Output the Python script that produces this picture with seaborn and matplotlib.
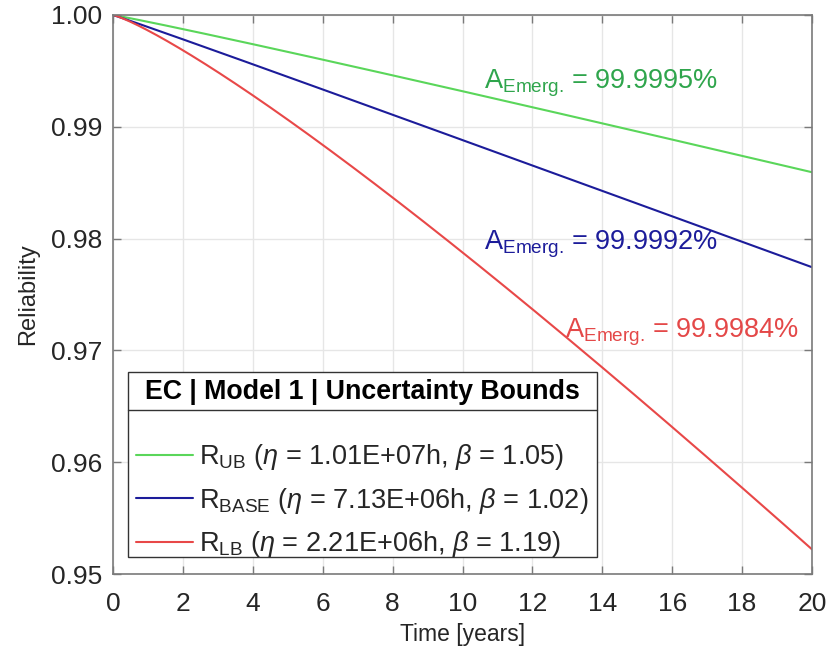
import numpy as np
import pandas as pd
import matplotlib
matplotlib.use("Agg")
import matplotlib.pyplot as plt
from matplotlib.lines import Line2D
from matplotlib.patches import Rectangle
import seaborn as sns

# Weibull parameters of the three reliability curves
series = ["UB", "BASE", "LB"]
eta_hours = [1.01e7, 7.13e6, 2.21e6]
beta = [1.05, 1.02, 1.19]
eta_labels = ["1.01E+07", "7.13E+06", "2.21E+06"]
beta_labels = ["1.05", "1.02", "1.19"]
availability = ["99.9995%", "99.9992%", "99.9984%"]
legend_title = "EC | Model 1 | Uncertainty Bounds"

line_colors = ["#5ad65a", "#1c1c9a", "#e84848"]
text_colors = ["#2fa54c", "#1c1c9a", "#e44848"]
text_pos = [(10.62, 0.99385), (10.62, 0.97950), (12.92, 0.97165)]

HOURS_PER_YEAR = 8760.0
years = np.linspace(0, 20, 401)

labels = [
    rf"R$_{{\mathrm{{{s}}}}}$ ($\eta$ = {e}h, $\beta$ = {b})"
    for s, e, b in zip(series, eta_labels, beta_labels)
]

frames = []
for lab, eta, b in zip(labels, eta_hours, beta):
    rel = np.exp(-((years * HOURS_PER_YEAR) / eta) ** b)
    frames.append(pd.DataFrame({"Time": years, "Reliability": rel, "Curve": lab}))
df = pd.concat(frames, ignore_index=True)

sns.set_theme(style="whitegrid")
plt.rcParams["font.family"] = ["Liberation Sans", "DejaVu Sans"]
plt.rcParams["mathtext.fontset"] = "custom"
plt.rcParams["mathtext.rm"] = "Liberation Sans"
plt.rcParams["mathtext.it"] = "Liberation Sans:italic"
plt.rcParams["mathtext.bf"] = "Liberation Sans:bold"

fig = plt.figure(figsize=(8.38, 6.53), dpi=100)
ax = fig.add_axes([113 / 838, 79 / 653, 699 / 838, 559 / 653])

sns.lineplot(data=df, x="Time", y="Reliability", hue="Curve",
             palette=dict(zip(labels, line_colors)), linewidth=1.5, ax=ax)

ax.set_xlim(0, 20)
ax.set_ylim(0.95, 1.0)
ax.set_xticks(np.arange(0, 21, 2))
ax.set_yticks([0.95, 0.96, 0.97, 0.98, 0.99, 1.00])
ax.set_yticklabels(["0.95", "0.96", "0.97", "0.98", "0.99", "1.00"])
ax.grid(True, color="#e6e6e6", linewidth=1.0)
ax.set_facecolor("white")
for sp in ax.spines.values():
    sp.set_visible(True)
    sp.set_color("#7a7a7a")
    sp.set_linewidth(1.2)
ax.tick_params(axis="both", which="major", direction="in", length=6, width=1,
               color="#7a7a7a", labelsize=19, labelcolor="#262626",
               top=True, right=True, bottom=True, left=True)
ax.tick_params(axis="x", pad=13)
ax.tick_params(axis="y", pad=8)
ax.set_xlabel("Time [years]", fontsize=16.5, color="#262626", labelpad=5)
ax.set_ylabel("Reliability", fontsize=17, color="#262626", labelpad=8)

for (tx, ty), av, col in zip(text_pos, availability, text_colors):
    ax.text(tx, ty, rf"A$_{{\mathrm{{Emerg.}}}}\,$= {av}", color=col,
            fontsize=19.5, va="center", ha="left")

# Legend box: frame, bold title row and separator drawn around the entries
box_x0, box_x1 = 0.0215, 0.6924
box_y0, box_y1 = 0.0305, 0.3620
sep_y = 0.2940
ax.add_patch(Rectangle((box_x0, box_y0), box_x1 - box_x0, box_y1 - box_y0,
                       transform=ax.transAxes, facecolor="white",
                       edgecolor="#333333", linewidth=1.0, zorder=4.5))
ax.add_line(Line2D([box_x0, box_x1], [sep_y, sep_y], transform=ax.transAxes,
                   color="#333333", linewidth=1.0, zorder=4.6))
ax.text((box_x0 + box_x1) / 2, (sep_y + box_y1) / 2 - 0.003, legend_title,
        transform=ax.transAxes, ha="center", va="center", fontsize=19.3,
        fontweight="bold", color="black", zorder=6)

leg = ax.legend(loc="center left", bbox_to_anchor=(0.0329, 0.131),
                borderaxespad=0, borderpad=0, fontsize=19.5, frameon=False,
                handlelength=2.1, handletextpad=0.22, labelspacing=0.5)
leg.set_zorder(6)
for h in leg.get_lines():
    h.set_linewidth(1.5)

fig.savefig("out.png", dpi=100)
